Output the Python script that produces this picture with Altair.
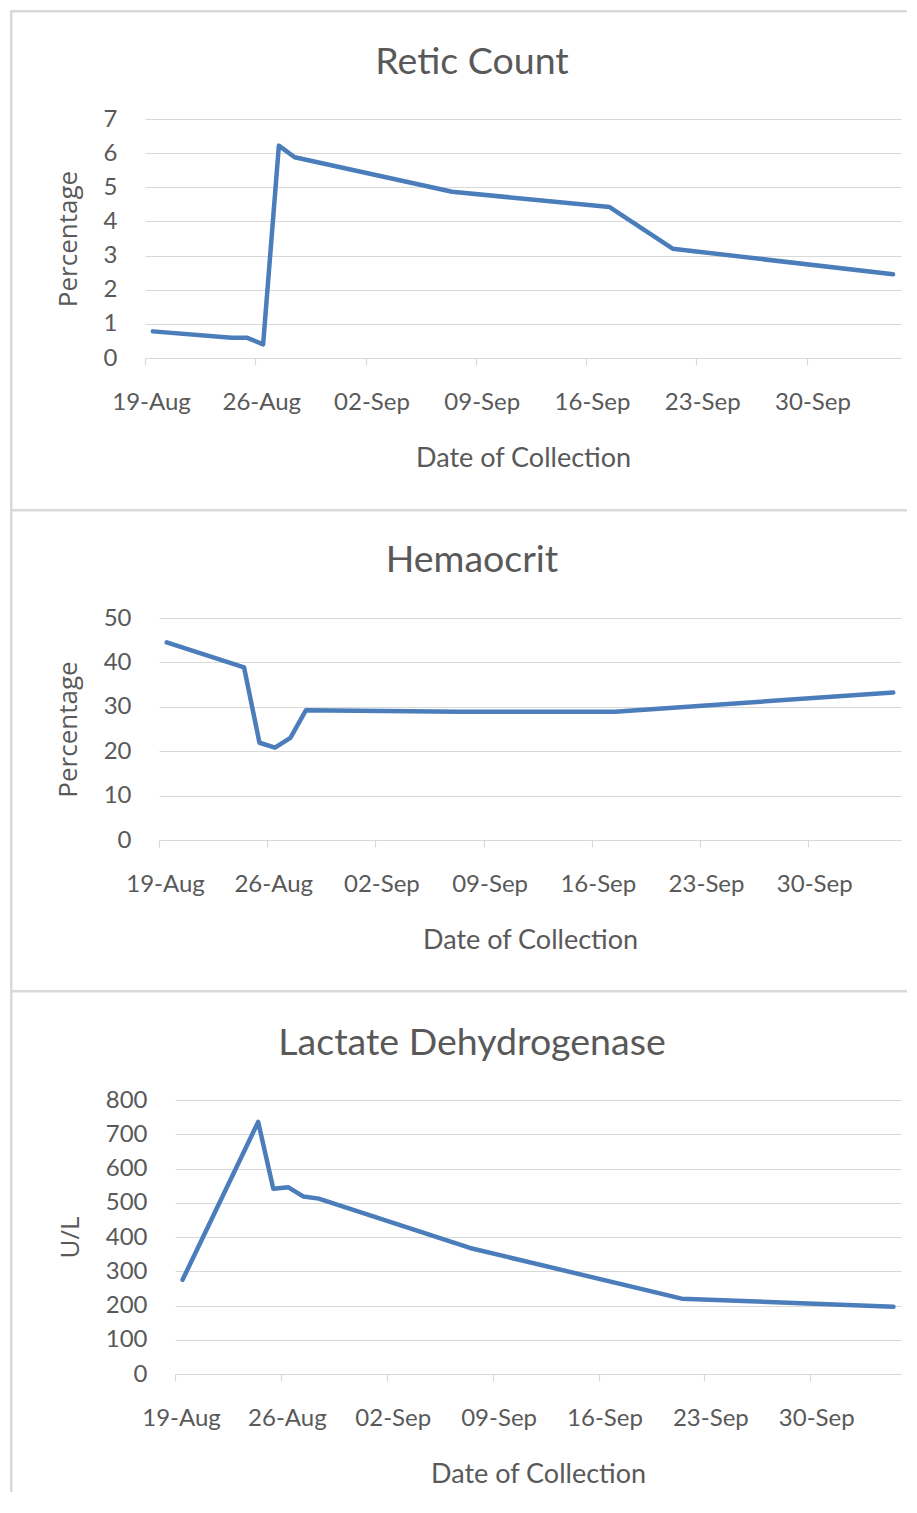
import altair as alt
import pandas as pd

# ---------------- data ----------------
RETIC_DATES = ["2016-08-19", "2016-08-24", "2016-08-25", "2016-08-26", "2016-08-27",
               "2016-08-28", "2016-09-07", "2016-09-17", "2016-09-21", "2016-10-05"]
RETIC_VALUES = [0.78, 0.59, 0.59, 0.40, 6.22, 5.88, 4.87, 4.42, 3.20, 2.45]

HCT_DATES = ["2016-08-19", "2016-08-24", "2016-08-25", "2016-08-26", "2016-08-27",
             "2016-08-28", "2016-09-07", "2016-09-17", "2016-10-05"]
HCT_VALUES = [44.5, 38.9, 21.9, 20.8, 23.0, 29.2, 28.9, 28.9, 33.2]

LDH_DATES = ["2016-08-19", "2016-08-24", "2016-08-25", "2016-08-26", "2016-08-27",
             "2016-08-28", "2016-09-07", "2016-09-21", "2016-10-05"]
LDH_VALUES = [275, 736, 541, 545, 518, 512, 368, 220, 196]

TITLES = ["Retic Count", "Hemaocrit", "Lactate Dehydrogenase"]
Y_TITLES = ["Percentage", "Percentage", "U/L"]
X_TITLE = "Date of Collection"
Y_MAX = [7, 50, 800]
Y_STEP = [1, 10, 100]
TICK_DATES = ["2016-08-19", "2016-08-26", "2016-09-02", "2016-09-09",
              "2016-09-16", "2016-09-23", "2016-09-30"]
X_DOMAIN = ["2016-08-19", "2016-10-06"]

# ---------------- layout / style (page pixels) ----------------
ORIGIN_X = 9.0                      # page x of every panel's left edge
PANEL_TOP = [9.0, 508.0, 989.0]     # page y of each panel's top edge
PANEL_H = [499, 481, 502]
PANEL_W = 897
PLOT_LEFT = [144, 158, 174]
PLOT_RIGHT = 900
PLOT_TOP = [118, 617, 1099]
PLOT_BOTTOM = [357, 839, 1373]
TITLE_X = 471.0
TITLE_BASELINE = [73.0, 571.0, 1054.0]
BORDER = "#d9d9d9"
BORDER_W = 2.5
TEXT = "#595959"
LINE = "#4a7dba"
FONT = "Lato"


def dt(s):
    y, m, d = (int(v) for v in s.split("-"))
    return alt.DateTime(year=y, month=m, date=d)


def panel(i, dates, values):
    top = PANEL_TOP[i]
    h = PANEL_H[i]
    x0 = PLOT_LEFT[i] - ORIGIN_X
    x1 = PLOT_RIGHT - ORIGIN_X
    y0 = PLOT_BOTTOM[i] - top
    y1 = PLOT_TOP[i] - top
    df = pd.DataFrame({"date": [d + "T12:00:00" for d in dates], "value": values})
    x_enc = alt.X(
        "date:T",
        scale=alt.Scale(domain=[dt(X_DOMAIN[0]), dt(X_DOMAIN[1])], range=[x0, x1]),
        axis=alt.Axis(
            values=[dt(s) for s in TICK_DATES],
            format="%d-%b",
            title=X_TITLE,
            grid=False,
            offset=y0 - h,
            domainColor=BORDER,
            domainWidth=1.2,
            tickColor=BORDER,
            tickWidth=1.2,
            tickSize=7,
            labelFont=FONT,
            labelFontSize=24,
            labelColor=TEXT,
            labelPadding=25,
            labelOffset=6,
            labelFlush=False,
            labelOverlap=False,
            titleFont=FONT,
            titleFontSize=27,
            titleFontWeight="normal",
            titleColor=TEXT,
            titlePadding=31,
        ),
    )
    y_enc = alt.Y(
        "value:Q",
        scale=alt.Scale(domain=[0, Y_MAX[i]], nice=False, range=[y0, y1]),
        axis=alt.Axis(
            values=list(range(0, Y_MAX[i] + 1, Y_STEP[i])),
            title=Y_TITLES[i],
            offset=-x0,
            domain=False,
            ticks=False,
            tickSize=0,
            grid=True,
            gridColor=BORDER,
            gridWidth=1.2,
            labelFont=FONT,
            labelFontSize=24,
            labelColor=TEXT,
            labelPadding=28,
            titleFont="Open Sans",
            titleFontSize=26,
            titleFontWeight="normal",
            titleColor=TEXT,
            titlePadding=22,
        ),
    )
    line = alt.Chart(df).mark_line(
        color=LINE, strokeWidth=4.5, strokeJoin="round", strokeCap="round"
    ).encode(x=x_enc, y=y_enc)

    deco = pd.DataFrame({"t": [TITLES[i]]})
    top_rule = alt.Chart(deco).mark_rule(color=BORDER, strokeWidth=BORDER_W).encode(
        x=alt.value(0), x2=alt.value(PANEL_W), y=alt.value(BORDER_W / 2)
    )
    left_rule = alt.Chart(deco).mark_rule(color=BORDER, strokeWidth=BORDER_W).encode(
        x=alt.value(BORDER_W / 2), y=alt.value(0), y2=alt.value(h)
    )
    title = alt.Chart(deco).mark_text(
        font=FONT, fontSize=37.5, color=TEXT, align="center", baseline="alphabetic"
    ).encode(
        x=alt.value(TITLE_X - ORIGIN_X),
        y=alt.value(TITLE_BASELINE[i] - top),
        text="t:N",
    )
    return alt.layer(line, top_rule, left_rule, title).properties(width=PANEL_W, height=h)


chart = alt.vconcat(
    panel(0, RETIC_DATES, RETIC_VALUES),
    panel(1, HCT_DATES, HCT_VALUES),
    panel(2, LDH_DATES, LDH_VALUES),
    spacing=0,
    bounds="flush",
).properties(padding=0, background="white").configure_view(stroke=None)

chart.save("out.html", embed_options={"renderer": "svg", "actions": False})
